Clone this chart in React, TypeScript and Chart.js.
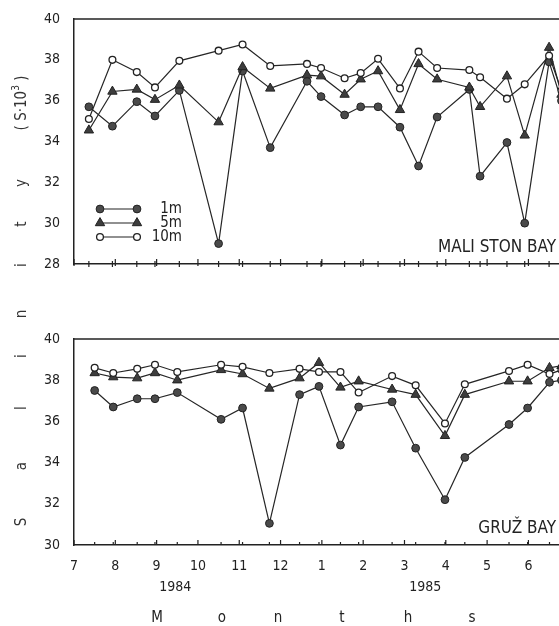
import React, { useEffect, useRef } from "react";
import { Chart, registerables } from "chart.js";

Chart.register(...registerables);

// ---- axis ticks ----
const monthTicks = [7, 8, 9, 10, 11, 12, 13, 14, 15, 16, 17, 18];
const monthLabels = ["7", "8", "9", "10", "11", "12", "1", "2", "3", "4", "5", "6"];
const yearLabels = ["1984", "1985"];
const seriesNames = ["1m", "5m", "10m"];
const panelNames = ["MALI STON BAY", "GRUŽ BAY"];

// ---- Mali Ston Bay (top panel), x = month index (7 = July 1984, 13 = Jan 1985) ----
const maliDates = [7.36, 7.93, 8.52, 8.96, 9.55, 10.5, 11.08, 11.75, 12.64, 12.98, 13.55, 13.94, 14.36, 14.89, 15.34, 15.79, 16.57, 16.83, 17.48, 17.91, 18.5, 18.8];
const mali1m = [35.7, 34.75, 35.95, 35.25, 36.5, 29.0, 37.45, 33.7, 36.95, 36.2, 35.3, 35.7, 35.7, 34.7, 32.8, 35.2, 36.55, 32.3, 33.95, 30.0, 37.9, 36.0];
const mali5m = [34.55, 36.45, 36.55, 36.05, 36.75, 34.95, 37.65, 36.6, 37.25, 37.2, 36.3, 37.05, 37.45, 35.55, 37.8, 37.05, 36.65, 35.7, 37.2, 34.3, 38.6, 36.3];
const mali10m = [35.1, 38.0, 37.4, 36.65, 37.95, 38.45, 38.75, 37.7, 37.8, 37.6, 37.1, 37.35, 38.05, 36.6, 38.4, 37.6, 37.5, 37.15, 36.1, 36.8, 38.2, 36.5];

// ---- Gruž Bay (bottom panel) ----
const gruzDates = [7.5, 7.95, 8.53, 8.96, 9.5, 10.56, 11.08, 11.73, 12.46, 12.93, 13.45, 13.89, 14.7, 15.27, 15.98, 16.46, 17.53, 17.98, 18.51, 18.8];
const gruz1m = [37.5, 36.7, 37.1, 37.1, 37.4, 36.1, 36.65, 31.05, 37.3, 37.7, 34.85, 36.7, 36.95, 34.7, 32.2, 34.25, 35.85, 36.65, 37.9, 38.0];
const gruz5m = [38.35, 38.15, 38.1, 38.35, 38.0, 38.5, 38.3, 37.6, 38.1, 38.85, 37.65, 37.95, 37.55, 37.3, 35.3, 37.3, 37.95, 37.95, 38.6, 38.7];
const gruz10m = [38.6, 38.35, 38.55, 38.75, 38.4, 38.75, 38.65, 38.35, 38.55, 38.4, 38.4, 37.4, 38.2, 37.75, 35.9, 37.8, 38.45, 38.75, 38.3, 38.5];

const INK = "#222";
const FONT = '"DejaVu Sans Condensed", "DejaVu Sans", sans-serif';

function drawMarker(ctx: CanvasRenderingContext2D, kind: number, x: number, y: number) {
  ctx.save();
  ctx.strokeStyle = INK;
  ctx.lineWidth = 1;
  ctx.beginPath();
  if (kind === 1) {
    const r = 5.4;
    ctx.moveTo(x, y - r);
    ctx.lineTo(x + 0.866 * r, y + r / 2);
    ctx.lineTo(x - 0.866 * r, y + r / 2);
    ctx.closePath();
    ctx.fillStyle = "#3d3d3d";
    ctx.fill();
    ctx.stroke();
  } else if (kind === 0) {
    ctx.arc(x, y, 3.9, 0, Math.PI * 2);
    ctx.fillStyle = "#4a4a4a";
    ctx.fill();
    ctx.stroke();
  } else {
    ctx.arc(x, y, 3.4, 0, Math.PI * 2);
    ctx.fillStyle = "#fff";
    ctx.fill();
    ctx.lineWidth = 1.3;
    ctx.stroke();
  }
  ctx.restore();
}

function rotText(ctx: CanvasRenderingContext2D, t: string, x: number, y: number) {
  ctx.save();
  ctx.translate(x, y);
  ctx.rotate(-Math.PI / 2);
  ctx.textAlign = "center";
  ctx.textBaseline = "middle";
  ctx.fillText(t, 0, 0);
  ctx.restore();
}

function makeConfig(isTop: boolean): any {
  const dates = isTop ? maliDates : gruzDates;
  const s1 = isTop ? mali1m : gruz1m;
  const s5 = isTop ? mali5m : gruz5m;
  const s10 = isTop ? mali10m : gruz10m;
  const pts = (vals: number[]) => vals.map((v, i) => ({ x: dates[i], y: v }));
  const lineColor = "#262626";

  const datasets = [
    {
      label: seriesNames[2], data: pts(s10), order: 0,
      borderColor: lineColor, borderWidth: 1.2,
      pointStyle: "circle", pointRadius: 3.4, pointBackgroundColor: "#fff",
      pointBorderColor: INK, pointBorderWidth: 1.3,
    },
    {
      label: seriesNames[1], data: pts(s5), order: 1,
      borderColor: lineColor, borderWidth: 1.2,
      pointStyle: "triangle", pointRadius: 5.4, pointBackgroundColor: "#3d3d3d",
      pointBorderColor: INK, pointBorderWidth: 1,
    },
    {
      label: seriesNames[0], data: pts(s1), order: 2,
      borderColor: lineColor, borderWidth: 1.2,
      pointStyle: "circle", pointRadius: 3.9, pointBackgroundColor: "#4a4a4a",
      pointBorderColor: INK, pointBorderWidth: 1,
    },
  ];

  const decor = {
    id: "decor" + (isTop ? "T" : "B"),
    afterDraw(chart: any) {
      const { ctx, chartArea: a } = chart;
      const x = chart.scales.x;
      ctx.save();
      ctx.strokeStyle = INK;
      ctx.lineWidth = 1.5;
      ctx.beginPath();
      ctx.moveTo(a.left, a.top);
      ctx.lineTo(a.right, a.top);
      ctx.stroke();

      ctx.lineWidth = 1.2;
      ctx.beginPath();
      monthTicks.forEach((m) => {
        const px = x.getPixelForValue(m);
        ctx.moveTo(px, a.bottom + (isTop ? 2 : 0));
        ctx.lineTo(px, a.bottom - 5);
      });
      dates.forEach((d) => {
        if (d > x.max) return;
        const px = x.getPixelForValue(d);
        ctx.moveTo(px, a.bottom + (isTop ? 3 : 0));
        ctx.lineTo(px, a.bottom - 3);
      });
      ctx.stroke();

      ctx.fillStyle = INK;
      ctx.font = "17px " + FONT;
      ctx.textAlign = "right";
      ctx.textBaseline = "middle";
      ctx.fillText(isTop ? panelNames[0] : panelNames[1], a.right - 3, a.bottom - 16);

      if (isTop) {
        // legend
        const rows = [209, 223, 237];
        rows.forEach((ry, k) => {
          ctx.strokeStyle = INK;
          ctx.lineWidth = 1.1;
          ctx.beginPath();
          ctx.moveTo(a.left + 26, ry);
          ctx.lineTo(a.left + 63, ry);
          ctx.stroke();
          drawMarker(ctx, k, a.left + 26, ry);
          drawMarker(ctx, k, a.left + 63, ry);
          ctx.fillStyle = INK;
          ctx.font = "15px " + FONT;
          ctx.textAlign = "right";
          ctx.textBaseline = "middle";
          ctx.fillText(seriesNames[k], a.left + 108, ry);
        });

        // vertical axis title "S a l i n i t y (S·10³)"
        ctx.fillStyle = "#333";
        ctx.font = "15px " + FONT;
        const letters = "Salinity".split("");
        const ys = [522, 466, 408, 356, 314, 265, 224, 183];
        letters.forEach((ch, i) => rotText(ctx, ch, 22, ys[i]));
        // (S·10³)
        ctx.save();
        ctx.translate(22, 103);
        ctx.rotate(-Math.PI / 2);
        ctx.textBaseline = "middle";
        ctx.textAlign = "left";
        const p1 = "( S·10";
        const p3 = " )";
        ctx.font = "15px " + FONT;
        const w1 = ctx.measureText(p1).width;
        const w3 = ctx.measureText(p3).width;
        ctx.font = "10px " + FONT;
        const w2 = ctx.measureText("3").width;
        const total = w1 + w2 + w3;
        let cx = -total / 2;
        ctx.font = "15px " + FONT;
        ctx.fillText(p1, cx, 0);
        cx += w1;
        ctx.font = "10px " + FONT;
        ctx.fillText("3", cx, -6);
        cx += w2;
        ctx.font = "15px " + FONT;
        ctx.fillText(p3, cx, 0);
        ctx.restore();
      } else {
        ctx.fillStyle = INK;
        ctx.font = "14px " + FONT;
        ctx.textAlign = "center";
        ctx.textBaseline = "middle";
        ctx.fillText(yearLabels[0], x.getPixelForValue(9.45), a.bottom + 42);
        ctx.fillText(yearLabels[1], x.getPixelForValue(15.5), a.bottom + 42);
        const word = "Months".split("");
        const xs = [157, 222, 278, 342, 408, 472];
        ctx.font = "15px " + FONT;
        word.forEach((ch, i) => ctx.fillText(ch, xs[i], a.bottom + 73));
      }
      ctx.restore();
    },
  };

  return {
    type: "line",
    data: { datasets },
    options: {
      responsive: false,
      maintainAspectRatio: false,
      animation: false,
      devicePixelRatio: 1,
      events: [],
      layout: { autoPadding: false, padding: { top: isTop ? 19 : 339, left: 0, right: 0, bottom: 0 } },
      plugins: { legend: { display: false }, tooltip: { enabled: false } },
      scales: {
        x: {
          type: "linear",
          min: 7,
          max: 18.74,
          afterBuildTicks: (s: any) => {
            s.ticks = monthTicks.map((v) => ({ value: v }));
          },
          afterFit: (s: any) => {
            s.height = isTop ? 362 : 81;
          },
          grid: { display: false },
          border: { display: true, color: INK, width: 1.5 },
          ticks: {
            display: !isTop,
            autoSkip: false,
            maxRotation: 0,
            padding: 5,
            color: INK,
            font: { family: FONT, size: 14 },
            callback: (v: any) => {
              const i = monthTicks.indexOf(Number(v));
              return i >= 0 ? monthLabels[i] : "";
            },
          },
        },
        y: {
          min: isTop ? 28 : 30,
          max: 40,
          afterFit: (s: any) => {
            s.width = 74;
          },
          grid: { display: false },
          border: { display: true, color: INK, width: 1.5 },
          ticks: {
            stepSize: 2,
            padding: 6,
            color: INK,
            font: { family: FONT, size: 14 },
          },
        },
      },
    },
    plugins: [decor],
  };
}

export default function App() {
  const topRef = useRef<HTMLCanvasElement>(null);
  const botRef = useRef<HTMLCanvasElement>(null);

  useEffect(() => {
    const c1 = new Chart(topRef.current!, makeConfig(true));
    const c2 = new Chart(botRef.current!, makeConfig(false));
    return () => {
      c1.destroy();
      c2.destroy();
    };
  }, []);

  const cs: React.CSSProperties = { position: "absolute", left: 0, top: 0, width: 559, height: 626 };
  return (
    <div style={{ position: "fixed", left: 0, top: 0, width: 559, height: 626, background: "#fff", overflow: "hidden" }}>
      <canvas ref={topRef} width={559} height={626} style={cs} />
      <canvas ref={botRef} width={559} height={626} style={cs} />
    </div>
  );
}
